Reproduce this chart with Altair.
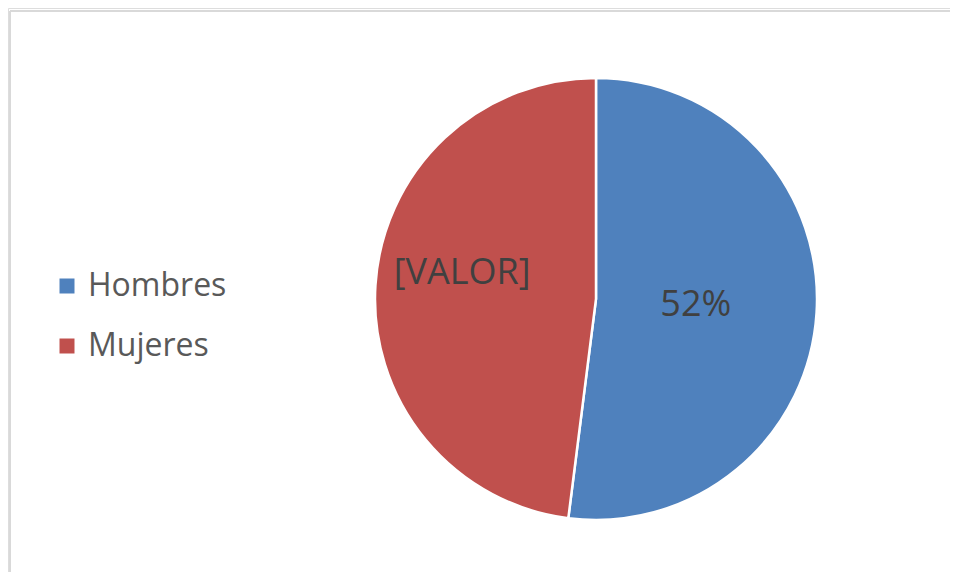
import altair as alt
import pandas as pd

categories = ["Hombres", "Mujeres"]
values = [52, 48]
labels = ["52%", "[VALOR]"]
colors = ["#4F81BD", "#C0504D"]

df = pd.DataFrame({"cat": categories, "value": values, "lab": labels, "ord": [0, 1]})

CX, CY = 588, 291
W, H = 942, 564

base = alt.Chart(df).encode(
    theta=alt.Theta("value:Q", stack=True),
    order=alt.Order("ord:Q"),
    x=alt.value(CX),
    y=alt.value(CY),
)

pie = base.mark_arc(radius=221, stroke="white", strokeWidth=2.5).encode(
    color=alt.Color(
        "cat:N",
        scale=alt.Scale(domain=categories, range=colors),
        legend=alt.Legend(
            title=None,
            orient="none",
            legendX=43,
            legendY=262,
            symbolType="square",
            symbolSize=225,
            symbolStrokeWidth=0,
            labelFontSize=32,
            labelFont="Open Sans",
            labelColor="#595959",
            labelOffset=5,
            rowPadding=28,
        ),
    )
)

lab1 = base.transform_calculate(
    t="datum.ord == 0 ? datum.lab : ''"
).mark_text(radius=100, fontSize=36, font="Open Sans", color="#404040").encode(
    text="t:N"
)

lab2 = base.transform_calculate(
    t="datum.ord == 1 ? datum.lab : ''"
).mark_text(radius=100, fontSize=36, font="Open Sans", color="#404040", dx=-34, dy=-20).encode(
    text="t:N"
)

border_df = pd.DataFrame({"k": [0]})
top = alt.Chart(border_df).mark_rule(color="#D9D9D9", strokeWidth=2).encode(
    x=alt.value(2), x2=alt.value(W + 20), y=alt.value(3)
)
left = alt.Chart(border_df).mark_rule(color="#D9D9D9", strokeWidth=2).encode(
    x=alt.value(2), y=alt.value(3), y2=alt.value(H + 20)
)

chart = (
    alt.layer(top, left, pie, lab1, lab2)
    .properties(width=W, height=H, autosize=alt.AutoSizeParams(type="none"), padding=0)
    .configure_view(strokeWidth=0)
    .configure(background="white")
)

chart.save("out.html", embed_options={"renderer": "svg", "actions": False})
